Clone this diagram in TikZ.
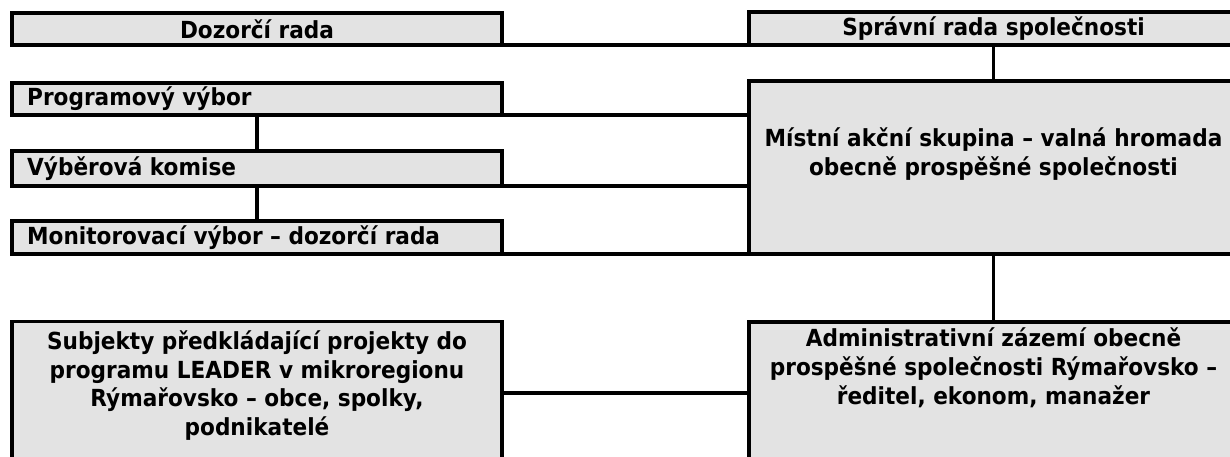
\documentclass[tikz,border=0pt]{standalone}
\usepackage{fontspec}
\newfontfamily\boxfont{DejaVu Sans}[FakeStretch=0.92]
\definecolor{boxgray}{RGB}{227,227,227}
\begin{document}
\begin{tikzpicture}[x=1pt,y=-1pt,
  box/.style={draw=black, line width=3.2pt, fill=boxgray, anchor=north west, inner sep=0pt, outer sep=0pt},
  txt/.style={font=\boxfont\bfseries\fontsize{23.5}{28.7}\selectfont, text=black, inner sep=0pt, align=center},
  conn/.style={draw=black, line width=3.2pt}]
\useasboundingbox (0,0) rectangle (1230,457);
\clip (0,0) rectangle (1230,457);
% boxes
\node[box, minimum width=490pt, minimum height=32pt] (dr) at (12,13) {};
\node[box, minimum width=489pt, minimum height=33pt] (sr) at (749,12) {};
\node[box, minimum width=490pt, minimum height=32pt] (pv) at (12,83) {};
\node[box, minimum width=490pt, minimum height=35pt] (vk) at (12,151) {};
\node[box, minimum width=490pt, minimum height=33pt] (mv) at (12,221) {};
\node[box, minimum width=489pt, minimum height=173pt] (mas) at (749,81) {};
\node[box, minimum width=490pt, minimum height=143pt] (subj) at (12,321.5) {};
\node[box, minimum width=489pt, minimum height=150pt] (adm) at (749,322) {};
% connectors
\draw[conn] (dr.south east) -- (sr.south west);
\draw[conn] (sr.south) -- (mas.north);
\draw[conn] (pv.south east) -- (pv.south east -| mas.west);
\draw[conn] (vk.south east) -- (vk.south east -| mas.west);
\draw[conn] (mv.south east) -- (mas.south west);
\draw[conn] (pv.south) -- (vk.north);
\draw[conn] (vk.south) -- (mv.north);
\draw[conn] (mas.south) -- (adm.north);
\draw[conn] (subj.east) -- (subj.east -| adm.west);
% texts
\node[txt] (drt) at (dr.center) {Dozorčí rada};
\node[txt] (srt) at (sr.center) {Správní rada společnosti};
\node[txt, anchor=west] (pvt) at ([xshift=15pt]pv.west) {Programový výbor};
\node[txt, anchor=west] (vkt) at ([xshift=15pt]vk.west) {Výběrová komise};
\node[txt, anchor=west] (mvt) at ([xshift=15pt]mv.west) {Monitorovací výbor – dozorčí rada};
\node[txt, anchor=north] (mast) at ([yshift=-47pt]mas.north) {Místní akční skupina – valná hromada\\obecně prospěšné společnosti};
\node[txt, anchor=north] (subjt) at ([yshift=-9pt]subj.north) {Subjekty předkládající projekty do\\programu LEADER v mikroregionu\\Rýmařovsko – obce, spolky,\\podnikatelé};
\node[txt, anchor=north] (admt) at ([yshift=-6pt]adm.north) {Administrativní zázemí obecně\\prospěšné společnosti Rýmařovsko –\\ředitel, ekonom, manažer};
\end{tikzpicture}
\end{document}
